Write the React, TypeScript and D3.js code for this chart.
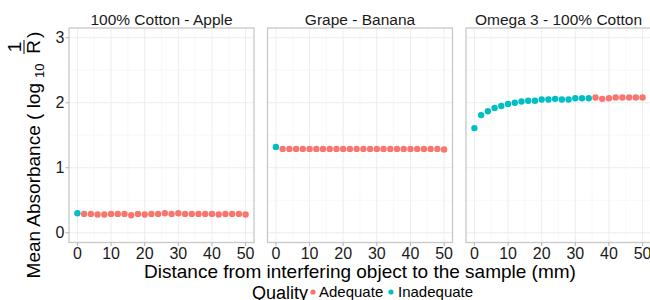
import React from "react";
import * as d3 from "d3";

const facets = ["100% Cotton - Apple", "Grape - Banana", "Omega 3 - 100% Cotton"];
const distances = [0, 2, 4, 6, 8, 10, 12, 14, 16, 18, 20, 22, 24, 26, 28, 30, 32, 34, 36, 38, 40, 42, 44, 46, 48, 50];
const cottonApple = [0.30, 0.29, 0.29, 0.28, 0.28, 0.29, 0.29, 0.29, 0.27, 0.29, 0.28, 0.29, 0.29, 0.30, 0.29, 0.30, 0.29, 0.29, 0.29, 0.29, 0.29, 0.28, 0.29, 0.29, 0.29, 0.28];
const cottonAppleQuality = ["I", "A", "A", "A", "A", "A", "A", "A", "A", "A", "A", "A", "A", "A", "A", "A", "A", "A", "A", "A", "A", "A", "A", "A", "A", "A"];
const grapeBanana = [1.32, 1.29, 1.29, 1.29, 1.29, 1.29, 1.29, 1.29, 1.29, 1.29, 1.29, 1.29, 1.29, 1.29, 1.29, 1.29, 1.29, 1.29, 1.29, 1.29, 1.29, 1.29, 1.29, 1.29, 1.29, 1.28];
const grapeBananaQuality = ["I", "A", "A", "A", "A", "A", "A", "A", "A", "A", "A", "A", "A", "A", "A", "A", "A", "A", "A", "A", "A", "A", "A", "A", "A", "A"];
const omegaCotton = [1.61, 1.81, 1.87, 1.92, 1.95, 1.98, 2.00, 2.02, 2.03, 2.03, 2.05, 2.05, 2.06, 2.05, 2.05, 2.07, 2.07, 2.07, 2.08, 2.06, 2.07, 2.08, 2.08, 2.08, 2.08, 2.08];
const omegaCottonQuality = ["I", "I", "I", "I", "I", "I", "I", "I", "I", "I", "I", "I", "I", "I", "I", "I", "I", "I", "A", "A", "A", "A", "A", "A", "A", "A"];
const xTicks = [0, 10, 20, 30, 40, 50];
const xMinor = [5, 15, 25, 35, 45];
const yTicks = [0, 1, 2, 3];
const yMinor = [0.5, 1.5, 2.5];
const qualityLabels = ["Adequate", "Inadequate"];

const seriesValues = [cottonApple, grapeBanana, omegaCotton];
const seriesQuality = [cottonAppleQuality, grapeBananaQuality, omegaCottonQuality];

const RED = "#F8766D";
const CYAN = "#00BFC4";
const FONT = "'Liberation Sans', Arial, sans-serif";

export default function App() {
  const W = 650, H = 300;
  const top = 28, bottom = 242.5;
  const pw = 185;
  const step = 198.5;
  const left0 = 69;
  const y = d3.scaleLinear().domain([-0.15, 3.15]).range([bottom, top]);
  const color = (q: string) => (q === "A" ? RED : CYAN);

  return (
    <svg width={W} height={H} style={{ position: "absolute", left: 0, top: 0 }} fontFamily={FONT}>
      <rect width={W} height={H} fill="white" />
      {facets.map((name, i) => {
        const x0 = left0 + i * step;
        const x = d3.scaleLinear().domain([-2.5, 52.5]).range([x0, x0 + pw]);
        return (
          <g key={name}>
            {xMinor.map((t) => (
              <line key={"xm" + t} x1={x(t)} x2={x(t)} y1={top} y2={bottom} stroke="#F4F4F4" strokeWidth={0.6} />
            ))}
            {yMinor.map((t) => (
              <line key={"ym" + t} x1={x0} x2={x0 + pw} y1={y(t)} y2={y(t)} stroke="#F4F4F4" strokeWidth={0.6} />
            ))}
            {xTicks.map((t) => (
              <line key={"xg" + t} x1={x(t)} x2={x(t)} y1={top} y2={bottom} stroke="#EDEDED" strokeWidth={1} />
            ))}
            {yTicks.map((t) => (
              <line key={"yg" + t} x1={x0} x2={x0 + pw} y1={y(t)} y2={y(t)} stroke="#EDEDED" strokeWidth={1} />
            ))}
            {distances.map((d, j) => (
              <circle key={"p" + j} cx={x(d)} cy={y(seriesValues[i][j])} r={3.2} fill={color(seriesQuality[i][j])} />
            ))}
            <rect x={x0} y={top} width={pw} height={bottom - top} fill="none" stroke="#C8C8C8" strokeWidth={1.3} />
            <text x={x0 + pw / 2} y={24.5} textAnchor="middle" fontSize={15.5} fill="#1A1A1A">{name}</text>
            {xTicks.map((t) => (
              <g key={"xt" + t}>
                <line x1={x(t)} x2={x(t)} y1={bottom} y2={bottom + 3.5} stroke="#B3B3B3" strokeWidth={1} />
                <text x={x(t)} y={258.5} textAnchor="middle" fontSize={16} fill="#1A1A1A">{t}</text>
              </g>
            ))}
            {i === 0 &&
              yTicks.map((t) => (
                <g key={"yt" + t}>
                  <line x1={x0 - 3.5} x2={x0} y1={y(t)} y2={y(t)} stroke="#B3B3B3" strokeWidth={1} />
                  <text x={x0 - 4.5} y={y(t) + 5.7} textAnchor="end" fontSize={16} fill="#1A1A1A">{t}</text>
                </g>
              ))}
          </g>
        );
      })}
      <text x={360} y={278} textAnchor="middle" fontSize={19} fill="black">
        Distance from interfering object to the sample (mm)
      </text>
      <g transform="translate(40,0) rotate(-90)" fill="black">
        <text x={-83} y={0} textAnchor="end" fontSize={19}>Mean Absorbance ( log</text>
        <text x={-78} y={4} textAnchor="start" fontSize={13}>10</text>
        <text x={-47} y={-19} textAnchor="middle" fontSize={19}>1</text>
        <line x1={-54} x2={-40} y1={-16} y2={-16} stroke="black" strokeWidth={1} />
        <text x={-47} y={0} textAnchor="middle" fontSize={19}>R</text>
        <text x={-38} y={0} textAnchor="start" fontSize={19}>)</text>
      </g>
      <text x={252} y={298.5} fontSize={18} fill="black">Quality</text>
      <circle cx={313} cy={292} r={2.6} fill={RED} />
      <text x={319} y={297} fontSize={15} fill="black">{qualityLabels[0]}</text>
      <circle cx={391} cy={292} r={2.6} fill={CYAN} />
      <text x={398} y={297} fontSize={15} fill="black">{qualityLabels[1]}</text>
    </svg>
  );
}
